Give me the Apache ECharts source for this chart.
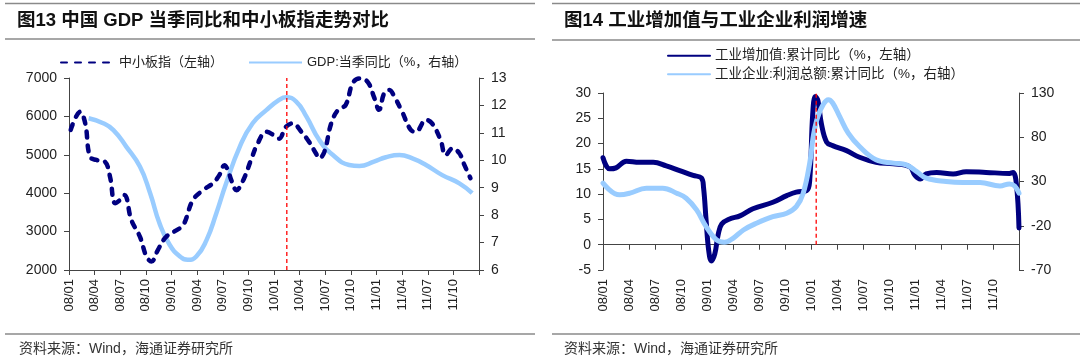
<!DOCTYPE html>
<html><head><meta charset="utf-8">
<script src="https://cdn.jsdelivr.net/npm/echarts@6/dist/echarts.min.js"></script>
<style>html,body{margin:0;padding:0;background:#fff}#c{width:1080px;height:359px}</style>
</head><body><div id="c"></div>
<script>
// ---------- data ----------
const tickLabels = ['08/01','08/04','08/07','08/10','09/01','09/04','09/07','09/10','10/01','10/04','10/07','10/10','11/01','11/04','11/07','11/10'];

// Chart 13 (x = months since 2008/01)
const smeMonths = [0.2,1.3,1.9,2.45,3.2,4.2,4.8,5.4,5.96,6.5,7.3,8.3,9.07,9.65,10.4,11.4,12.96,13.5,14.5,15.7,16.85,17.6,18.2,18.6,19,19.6,20.4,21.3,22.1,23.1,24.06,24.6,25.4,26.2,27.2,28.1,28.9,29.3,29.9,30.7,31.5,32.4,33.2,34,34.96,35.7,36.3,36.9,37.5,38.1,39,40,40.6,41.8,42.5,43.5,44.1,44.9,45.7,46.2,47];
const smeValues = [5650,6120,5820,4950,4865,4820,4430,3740,3820,3950,3300,2870,2350,2220,2520,2870,3085,3220,3820,4080,4260,4470,4730,4600,4340,4080,4340,4860,5300,5600,5500,5420,5730,5820,5600,5340,5040,4910,5080,5820,6170,6300,6860,6990,6900,6510,6170,6600,6690,6510,6120,5650,5600,5910,5820,5390,4990,5170,5040,4780,4390];
const gdpMonths = [2.3,4,5.2,6.7,8.3,9.5,10.6,11.8,13,13.9,14.9,16.1,17.25,18.4,20,21.5,23.1,24.6,25.4,26.6,27.8,29.3,30.9,32.8,34,35.7,37.1,38.7,40.2,41.8,43.7,45.7,47.2];
const gdpValues = [11.53,11.35,11.1,10.5,9.77,8.8,7.7,6.91,6.49,6.37,6.49,7.09,8.07,9.16,10.5,11.35,11.83,12.2,12.3,12.14,11.59,10.74,10.19,9.83,9.79,9.95,10.11,10.19,10.07,9.83,9.46,9.16,8.8];
const chart13MarkerX = [25.5, 25.5];
const chart13MarkerY = [2000, 7000];

// Chart 14
const iavMonths = [0,0.77,1.5,2.7,4.2,5.8,7.3,8.85,10.4,11.35,11.6,11.9,12.2,12.5,12.9,13.3,13.7,14.6,15.8,17.3,19.6,21.2,22.3,23.5,23.85,24.2,24.5,24.8,25.2,25.8,26.5,28.1,29.6,31.5,33.5,35.4,36,36.6,37.3,38.5,40.4,41.9,44.2,46.9,47.3,47.7,48];
const iavValues = [17.2,15.0,15.2,16.5,16.3,16.3,15.6,14.65,13.7,13.2,11.3,4.75,-1.2,-3.2,-1.8,2.1,4.1,5.1,5.7,7.1,8.4,9.7,10.4,10.7,12.7,25.9,29.3,28.5,23.9,20.3,19.6,18.6,17.3,16.3,16.0,15.4,13.7,13.0,14.0,14.3,14.0,14.45,14.3,14.1,14.3,12.0,3.3];
const profitMonths = [0,1.9,3.1,5,6.9,8.5,9.6,10.8,11.9,13.1,14,15,16.2,17.7,19.6,21.2,22.3,23.1,23.85,24.2,24.4,24.8,25.4,26,26.5,27.3,28.3,29.6,31.5,33.5,35,36.2,37.3,39.6,41.5,43.5,45.8,46.9,47.5,48];
const profitValues = [28.1,14.9,16.8,22.4,22.4,16.8,11.1,-2.1,-21,-36,-38.7,-34.2,-24.8,-17.2,-9.7,-5.9,1.6,16.8,50.8,77,88.5,103.5,116.8,122.4,118.7,103.5,84.7,69.5,54.5,50.8,48.8,41.2,33.8,30,28.8,28.8,25,27.3,25,16.8];
const chart14MarkerX = [24.6, 24.6];
const chart14MarkerY = [0, 31];

// ---------- chart ----------
const FONT = '"Liberation Sans", Arial, "Noto Sans CJK SC", sans-serif';
const TXT = '#222';
const AX = '#444';
const NAVY = '#000080';
const LIGHT = '#99CCFF';
function pairs(xs, ys) { return xs.map((x, i) => [x, ys[i]]); }
function xLabel(v) { const i = Math.round(v / 3); return (i < tickLabels.length) ? tickLabels[i] : ''; }

const axisLineStyle = { color: AX, width: 1 };
function yAxisCfg(grid, pos, min, max, interval) {
  return {
    gridIndex: grid, type: 'value', position: pos, min: min, max: max, interval: interval,
    axisLine: { show: true, onZero: false, lineStyle: axisLineStyle },
    axisTick: { show: true, length: 5, lineStyle: axisLineStyle },
    splitLine: { show: false },
    axisLabel: { fontSize: 14, color: TXT, fontFamily: FONT, margin: 12, formatter: v => String(v) }
  };
}
const xLabelCfg = { rotate: 90, formatter: xLabel, fontSize: 13, color: TXT, fontFamily: FONT, margin: 9, showMinLabel: true, showMaxLabel: true };

const rule = (x1, x2, y, w) => ({ type: 'line', shape: { x1: x1, y1: y, x2: x2, y2: y }, style: { stroke: '#8a8a8a', lineWidth: w } });

const markerSeries = (xi, yi, xs, ys) => ({
  name: 'marker', type: 'line', xAxisIndex: xi, yAxisIndex: yi, data: pairs(xs, ys), symbol: 'none', silent: true, z: 5,
  lineStyle: { color: '#FF0000', type: [4, 3], width: 1.3 }
});

const option = {
  animation: false,
  backgroundColor: '#fff',
  textStyle: { fontFamily: FONT },
  title: [
    { text: '图13 中国 GDP 当季同比和中小板指走势对比', left: 17, top: 12, padding: 0, textStyle: { fontSize: 18.5, fontWeight: 'bold', color: '#111', fontFamily: FONT } },
    { text: '图14 工业增加值与工业企业利润增速', left: 564, top: 12, padding: 0, textStyle: { fontSize: 18.5, fontWeight: 'bold', color: '#111', fontFamily: FONT } },
    { text: '资料来源：Wind，海通证券研究所', left: 19, top: 342, padding: 0, textStyle: { fontSize: 14, fontWeight: 'normal', color: '#333', fontFamily: FONT } },
    { text: '资料来源：Wind，海通证券研究所', left: 564, top: 342, padding: 0, textStyle: { fontSize: 14, fontWeight: 'normal', color: '#333', fontFamily: FONT } }
  ],
  graphic: [
    rule(5, 535, 3.5, 1.5), rule(5, 535, 39, 1.5), rule(5, 535, 334, 1.5),
    rule(552, 1080, 3.5, 1.5), rule(552, 1080, 40, 1.5), rule(552, 1080, 334, 1.5)
  ],
  legend: [
    { data: ['中小板指（左轴）', 'GDP:当季同比（%，右轴）'], left: 60, top: 56, padding: 0, itemWidth: 53, itemHeight: 14, itemGap: 25,
      itemStyle: { opacity: 0 },
      textStyle: { fontSize: 13, color: TXT, fontFamily: FONT } },
    { data: ['工业增加值:累计同比（%，左轴）', '工业企业:利润总额:累计同比（%，右轴）'], orient: 'vertical', left: 667, top: 49, padding: 0, itemWidth: 42, itemHeight: 14, itemGap: 5,
      itemStyle: { opacity: 0 },
      textStyle: { fontSize: 13.5, color: TXT, fontFamily: FONT } }
  ],
  grid: [
    { left: 69, top: 78, width: 410, height: 192 },
    { left: 603, top: 93, width: 416, height: 177 }
  ],
  xAxis: [
    { gridIndex: 0, type: 'value', position: 'bottom', min: 0, max: 48, interval: 3,
      axisLine: { show: true, onZero: false, lineStyle: axisLineStyle }, axisTick: { show: true, length: 5, lineStyle: axisLineStyle },
      splitLine: { show: false }, axisLabel: xLabelCfg },
    { gridIndex: 1, type: 'value', position: 'bottom', min: 0, max: 48, interval: 3,
      axisLine: { show: true, onZero: true, onZeroAxisIndex: 2, lineStyle: axisLineStyle }, axisTick: { show: true, length: 5, lineStyle: axisLineStyle },
      splitLine: { show: false }, axisLabel: { show: false } },
    { gridIndex: 1, type: 'value', position: 'bottom', min: 0, max: 48, interval: 3,
      axisLine: { show: false, onZero: false }, axisTick: { show: false },
      splitLine: { show: false }, axisLabel: xLabelCfg }
  ],
  yAxis: [
    yAxisCfg(0, 'left', 2000, 7000, 1000),
    yAxisCfg(0, 'right', 6, 13, 1),
    yAxisCfg(1, 'left', -5, 30, 5),
    yAxisCfg(1, 'right', -70, 130, 50)
  ],
  series: [
    markerSeries(0, 0, chart13MarkerX, chart13MarkerY),
    { name: 'GDP:当季同比（%，右轴）', type: 'line', xAxisIndex: 0, yAxisIndex: 1, data: pairs(gdpMonths, gdpValues),
      smooth: 0.5, symbol: 'none', lineStyle: { color: LIGHT, width: 4.5 }, itemStyle: { color: LIGHT } },
    { name: '中小板指（左轴）', type: 'line', xAxisIndex: 0, yAxisIndex: 0, data: pairs(smeMonths, smeValues),
      smooth: 0.4, symbol: 'none', lineStyle: { color: NAVY, width: 4.5, type: [6, 8], cap: 'round' }, itemStyle: { color: NAVY } },
    markerSeries(1, 2, chart14MarkerX, chart14MarkerY),
    { name: '工业增加值:累计同比（%，左轴）', type: 'line', xAxisIndex: 1, yAxisIndex: 2, data: pairs(iavMonths, iavValues),
      smooth: 0.4, symbol: 'none', lineStyle: { color: NAVY, width: 5, cap: 'round' }, itemStyle: { color: NAVY } },
    { name: '工业企业:利润总额:累计同比（%，右轴）', type: 'line', xAxisIndex: 1, yAxisIndex: 3, data: pairs(profitMonths, profitValues),
      smooth: 0.4, symbol: 'none', lineStyle: { color: LIGHT, width: 5, cap: 'round' }, itemStyle: { color: LIGHT } }
  ]
};
const chart = echarts.init(document.getElementById('c'));
chart.setOption(option);
</script>
</body></html>
